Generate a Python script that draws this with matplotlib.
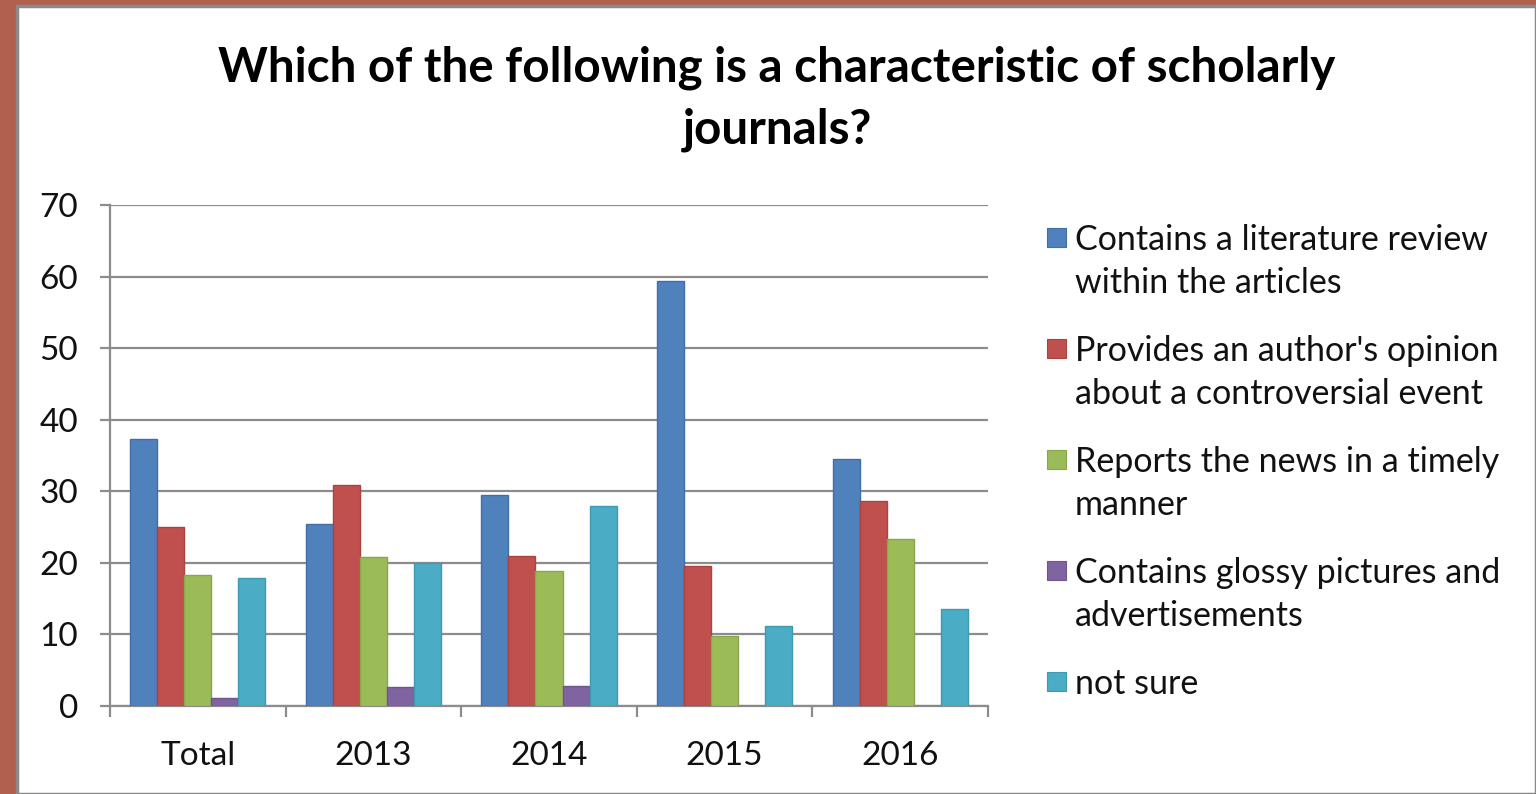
import matplotlib
matplotlib.use("Agg")
import matplotlib.pyplot as plt
from matplotlib.patches import Rectangle
import numpy as np

categories = ["Total", "2013", "2014", "2015", "2016"]
series_names = [
    "Contains a literature review\nwithin the articles",
    "Provides an author's opinion\nabout a controversial event",
    "Reports the news in a timely\nmanner",
    "Contains glossy pictures and\nadvertisements",
    "not sure",
]
lit_review = [37.3, 25.4, 29.5, 59.4, 34.5]
opinion = [25.0, 30.9, 21.0, 19.6, 28.6]
news = [18.3, 20.8, 18.9, 9.8, 23.3]
glossy = [1.1, 2.7, 2.8, 0.0, 0.0]
not_sure = [17.9, 20.0, 27.9, 11.2, 13.6]
yticks = [0, 10, 20, 30, 40, 50, 60, 70]

colors = ["#4F81BD", "#C0504D", "#9BBB59", "#8064A2", "#4BACC6"]
edges = ["#3F6FA8", "#A84340", "#88A64A", "#6E5490", "#3E99B2"]

FONT = "Lato"
plt.rcParams["font.family"] = [FONT, "DejaVu Sans"]

W, H = 1536, 794
fig = plt.figure(figsize=(W / 100, H / 100), dpi=100)
fig.patch.set_facecolor("#B0604C")
# white chart panel
fig.patches.append(Rectangle((17 / W, 0), 1 - 17 / W, 1 - 6 / H,
                             transform=fig.transFigure, facecolor="white",
                             edgecolor="#8a8a8a", linewidth=2.5, zorder=-5))

ax = fig.add_axes([110 / W, 88 / H, 878 / W, 501 / H])
ax.set_zorder(2)
ax.set_facecolor("none")

data = [lit_review, opinion, news, glossy, not_sure]
x = np.arange(len(categories))
w = 1 / 6.5
for i, (vals, name) in enumerate(zip(data, series_names)):
    ax.bar(x + (i - 2) * w, vals, width=w, color=colors[i], edgecolor=edges[i],
           linewidth=1.0, label=name.replace("\n", " "), zorder=3)

ax.set_xlim(-0.5, len(categories) - 0.5)
ax.set_ylim(0, 70)
ax.set_yticks(yticks)
ax.yaxis.grid(True, color="#8c8c8c", linewidth=1.6, zorder=1)
ax.set_axisbelow(True)

ax.set_xticks(x)
ax.set_xticklabels(categories)
ax.set_xticks(np.arange(len(categories) + 1) - 0.5, minor=True)
ax.tick_params(axis="x", which="major", length=0, pad=25, labelsize=24, labelcolor="#111111")
ax.tick_params(axis="x", which="minor", length=8, width=1.6, color="#8c8c8c", direction="out")
ax.tick_params(axis="y", length=7, width=1.6, color="#8c8c8c", pad=16, labelsize=24, labelcolor="#111111")

for s in ["top", "right"]:
    ax.spines[s].set_visible(False)
for s in ["left", "bottom"]:
    ax.spines[s].set_color("#8c8c8c")
    ax.spines[s].set_linewidth(1.6)

fig.text(777 / W, 1 - 99 / H,
         "Which of the following is a characteristic of scholarly\njournals?",
         ha="center", va="center", fontsize=34.2, fontweight="bold",
         linespacing=1.5, color="#000000", zorder=3)

# legend drawn manually (square aligned with the first line of each entry)
base0, step, line_gap = 250, 111, 43
for i, name in enumerate(series_names):
    yb = base0 + i * step
    fig.patches.append(Rectangle((1047 / W, 1 - (yb - 3) / H), 19 / W, 19 / H,
                                 transform=fig.transFigure, facecolor=colors[i],
                                 edgecolor=edges[i], linewidth=0.8, zorder=3))
    for j, line in enumerate(name.split("\n")):
        fig.text(1075 / W, 1 - (yb + j * line_gap) / H, line, ha="left",
                 va="baseline", fontsize=24.5, color="#111111", zorder=3)

fig.savefig("out.png", dpi=100, facecolor=fig.get_facecolor())
